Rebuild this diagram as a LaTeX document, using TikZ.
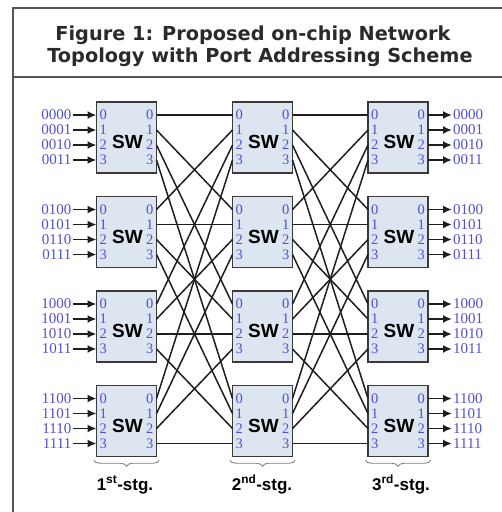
\documentclass[tikz,border=0pt]{standalone}
\usepackage{fontspec}
\setmainfont{Liberation Serif}
\newfontfamily\titlefont{DejaVu Sans}
\newfontfamily\swfont{Liberation Sans}
\usepackage{tikz}
\usetikzlibrary{arrows.meta,calc,decorations.pathreplacing}
\definecolor{portBlue}{HTML}{5050D4}
\definecolor{swFill}{HTML}{DDE5F1}
\definecolor{boxEdge}{HTML}{3A3A3A}
\definecolor{frameGray}{HTML}{555555}
\definecolor{titleGray}{HTML}{2A2A2A}
\definecolor{linkBlack}{HTML}{1E1E1E}

\begin{document}
\begin{tikzpicture}[x=1pt, y=-1pt,
  swbox/.style={draw=boxEdge, fill=swFill, line width=1.5pt, minimum width=60pt, minimum height=71pt, inner sep=0pt},
  portnum/.style={font=\fontsize{14.5}{14.5}\selectfont, text=portBlue, inner xsep=3pt, inner ysep=0pt},
  addr/.style={font=\fontsize{15}{15}\selectfont, text=portBlue, inner sep=1pt},
  link/.style={draw=linkBlack, line width=1.5pt},
  feed/.style={draw=linkBlack, line width=1.8pt, -{Latex[length=9pt,width=8pt]}},
  stgbrace/.style={draw=gray, line width=0.9pt, decorate, decoration={brace, mirror, amplitude=6pt}},
  stglabel/.style={font=\swfont\bfseries\fontsize{17}{18}\selectfont, anchor=base}]
  \useasboundingbox (0,0) rectangle (502,512);

  % Frame
  \draw[frameGray, line width=2pt] (502,8) -- (13,8) -- (13,512);
  \draw[frameGray, line width=1.5pt] (13,77) -- (502,77);

  % Title zone
  \node[font=\titlefont\bfseries\fontsize{19.3}{22}\selectfont, text=titleGray, anchor=base] (title1) at (253,40) {Figure 1: Proposed on-chip Network};
  \node[font=\titlefont\bfseries\fontsize{19.3}{22}\selectfont, text=titleGray, anchor=base] (title2) at (260,62) {Topology with Port Addressing Scheme};

  % Switches of the three stages
  \foreach \st/\xc in {1/126.5, 2/262.5, 3/398} {
    \foreach \r/\yc in {0/137.5, 1/232, 2/326.5, 3/421} {
      \node[swbox] (s\st r\r) at (\xc,\yc) {};
      \node[font=\swfont\bfseries\fontsize{19}{19}\selectfont, inner sep=0pt] (sw\st r\r) at (\xc+1,\yc+4.5) {SW};
      \foreach \p in {0,...,3} {
        \coordinate (s\st r\r i\p) at (\xc-30, \yc-22.5+15*\p);
        \coordinate (s\st r\r o\p) at (\xc+30, \yc-22.5+15*\p);
        \node[portnum, anchor=west] (pl\st r\r p\p) at (s\st r\r i\p) {\p};
        \node[portnum, anchor=east] (pr\st r\r p\p) at (s\st r\r o\p) {\p};
      }
    }
  }

  % Links between stages
  \foreach \a/\b in {1/2, 2/3} {
    \foreach \i in {0,...,3} {
      \foreach \j in {0,...,3} {
        \draw[link] (s\a r\i o\j) -- (s\b r\j i\i);
      }
    }
  }

  % Port addresses
  \foreach \lab [count=\k from 0] in {0000,0001,0010,0011,0100,0101,0110,0111,1000,1001,1010,1011,1100,1101,1110,1111} {
    \pgfmathtruncatemacro\r{\k/4}
    \pgfmathtruncatemacro\p{mod(\k,4)}
    \node[addr, anchor=east] (in\lab) at ($(s1r\r i\p)+(-24,0)$) {\lab};
    \draw[feed] (in\lab) -- (s1r\r i\p);
    \node[addr, anchor=west] (out\lab) at ($(s3r\r o\p)+(24,0)$) {\lab};
    \draw[feed] (s3r\r o\p) -- (out\lab);
  }

  % Stage braces
  \draw[stgbrace] ($(s1r3.south west)+(-2,3)$) -- ($(s1r3.south east)+(2,3)$);
  \draw[stgbrace] ($(s2r3.south west)+(-2,3)$) -- ($(s2r3.south east)+(2,3)$);
  \draw[stgbrace] ($(s3r3.south west)+(-2,3)$) -- ($(s3r3.south east)+(2,3)$);
  \node[stglabel] (stg1) at (125,490) {1\textsuperscript{st}-stg.};
  \node[stglabel] (stg2) at (262,490) {2\textsuperscript{nd}-stg.};
  \node[stglabel] (stg3) at (401,490) {3\textsuperscript{rd}-stg.};
\end{tikzpicture}
\end{document}
